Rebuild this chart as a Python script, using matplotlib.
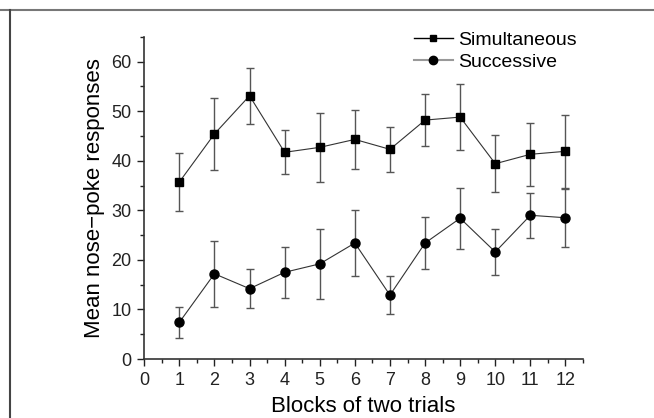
import matplotlib
matplotlib.use("Agg")
import matplotlib.pyplot as plt
from matplotlib.lines import Line2D
from matplotlib.ticker import MultipleLocator
import numpy as np

plt.rcParams['font.family'] = ['Liberation Sans', 'DejaVu Sans']

blocks = [1, 2, 3, 4, 5, 6, 7, 8, 9, 10, 11, 12]
simultaneous = [35.7, 45.4, 53.1, 41.7, 42.7, 44.3, 42.3, 48.2, 48.8, 39.4, 41.3, 41.9]
simultaneous_err = [5.9, 7.3, 5.7, 4.4, 7.0, 6.0, 4.6, 5.3, 6.6, 5.8, 6.4, 7.3]
successive = [7.4, 17.2, 14.2, 17.5, 19.2, 23.4, 12.9, 23.4, 28.4, 21.6, 29.0, 28.5]
successive_err = [3.2, 6.7, 4.0, 5.2, 7.0, 6.6, 3.9, 5.3, 6.2, 4.7, 4.5, 5.9]
x_ticks = [0, 1, 2, 3, 4, 5, 6, 7, 8, 9, 10, 11, 12]
y_ticks = [0, 10, 20, 30, 40, 50, 60]

fig = plt.figure(figsize=(6.54, 4.18), dpi=100)
ax = fig.add_axes([0.2205, 0.141, 0.671, 0.771])

ax.errorbar(blocks, simultaneous, yerr=simultaneous_err, color='#333333', lw=0.8,
            marker='s', ms=5.5, mfc='black', mec='black', ecolor='#555555',
            elinewidth=1.0, capsize=3, capthick=1.0)
ax.errorbar(blocks, successive, yerr=successive_err, color='#333333', lw=0.8,
            marker='o', ms=6.5, mfc='black', mec='black', ecolor='#555555',
            elinewidth=1.0, capsize=3, capthick=1.0)

ax.set_xlim(0, 12.5)
ax.set_ylim(0, 65)
ax.set_xticks(x_ticks)
ax.set_yticks(y_ticks)
ax.xaxis.set_minor_locator(MultipleLocator(0.5))
ax.yaxis.set_minor_locator(MultipleLocator(5))
ax.tick_params(which='major', direction='out', length=5, width=1, labelsize=13, colors='#222222', pad=4)
ax.tick_params(which='minor', direction='out', length=3, width=1, colors='#222222')
for s in ['top', 'right']:
    ax.spines[s].set_visible(False)
for s in ['left', 'bottom']:
    ax.spines[s].set_linewidth(1.2)
    ax.spines[s].set_color('#333333')

ax.set_xlabel('Blocks of two trials', fontsize=16, labelpad=5)
ax.set_ylabel('Mean nose\u2212poke responses', fontsize=16, labelpad=5)

handles = [Line2D([], [], color='black', lw=1, marker='s', ms=5, mfc='black'),
           Line2D([], [], color='#999999', lw=1.5, marker='o', ms=6, mfc='black', mec='black')]
fig.legend(handles, ['Simultaneous', 'Successive'], loc='upper left',
           bbox_to_anchor=(400 / 654, 1 - 18 / 418), frameon=False, fontsize=14,
           handlelength=2.0, handletextpad=0.3, labelspacing=0.2, borderpad=0.2)

fig.add_artist(Line2D([0, 1], [1 - 10 / 418, 1 - 10 / 418], transform=fig.transFigure, color='#777777', lw=1.5))
fig.add_artist(Line2D([9.5 / 654, 9.5 / 654], [0, 1 - 10 / 418], transform=fig.transFigure, color='#444444', lw=1.5))

fig.savefig('out.png', dpi=100)
